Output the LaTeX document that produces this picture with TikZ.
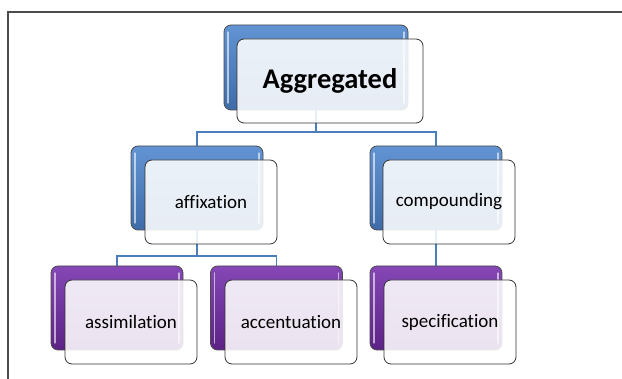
\documentclass[tikz,border=0pt]{standalone}
\usepackage{fontspec}
\setmainfont{Carlito}[Ligatures={NoCommon,NoRare}]
\usetikzlibrary{positioning}
\pgfdeclarelayer{background}
\pgfsetlayers{background,main}
\definecolor{blueTop}{HTML}{6293D2}
\definecolor{blueBot}{HTML}{3F6CA9}
\definecolor{purpleTop}{HTML}{8447B5}
\definecolor{purpleBot}{HTML}{5C2285}
\definecolor{linkBlue}{HTML}{4A7DBA}
\tikzset{
	backbox/.style={draw=black!70, line width=0.8pt, rounded corners=7pt,
		minimum width=132pt, minimum height=84pt, inner sep=0pt,
		path picture={
			\draw[white, opacity=0.6, line width=1.2pt, line cap=round]
				([xshift=4pt,yshift=-7pt]path picture bounding box.north west)--([xshift=4pt,yshift=7pt]path picture bounding box.south west)
				([xshift=-4pt,yshift=-7pt]path picture bounding box.north east)--([xshift=-4pt,yshift=7pt]path picture bounding box.south east);
		}},
	bluebox/.style={backbox, top color=blueTop, bottom color=blueBot},
	purplebox/.style={backbox, top color=purpleTop, bottom color=purpleBot},
	frontbox/.style={draw=black!80, line width=0.8pt, rounded corners=7pt,
		fill=white, fill opacity=0.88, text opacity=1,
		minimum width=132pt, minimum height=84pt, inner sep=0pt,
		font=\fontsize{19}{22}\selectfont},
	conn/.style={draw=linkBlue, line width=1.8pt}
}
\begin{document}
\begin{tikzpicture}[x=1pt,y=-1pt]
	\useasboundingbox (0,0) rectangle (622,379);
	\draw[black!70, line width=1.2pt] (8,379)--(8,12)--(622,12);
	% top
	\node[bluebox, minimum width=184pt, minimum height=85pt] (aggB) at (316,67.5) {};
	\node[frontbox, minimum width=186pt, font=\fontsize{28.5}{32}\selectfont\bfseries] (aggF) at (330,81) {Aggregated};
	% middle
	\node[bluebox] (affB) at (197,188) {};
	\node[frontbox] (affF) at (211,202) {affixation};
	\node[bluebox] (compB) at (436,188) {};
	\node[frontbox] (compF) at (449,202) {compounding};
	% bottom
	\node[purplebox] (assB) at (117,308) {};
	\node[frontbox] (assF) at (131,322) {assimilation};
	\node[purplebox] (accB) at (276.5,308) {};
	\node[frontbox] (accF) at (291,322) {accentuation};
	\node[purplebox] (specB) at (436,308) {};
	\node[frontbox] (specF) at (450,322) {specification};
	\begin{pgfonlayer}{background}
		\draw[conn] (aggB.south) -- ++(0,22) -| (affB.north);
		\draw[conn] (aggB.south) -- ++(0,22) -| (compB.north);
		\draw[conn] (affB.south) -- ++(0,26) -| (assB.north);
		\draw[conn] (affB.south) -- ++(0,26) -| (accB.north);
		\draw[conn] (compB.south) -- (specB.north);
	\end{pgfonlayer}
\end{tikzpicture}
\end{document}
